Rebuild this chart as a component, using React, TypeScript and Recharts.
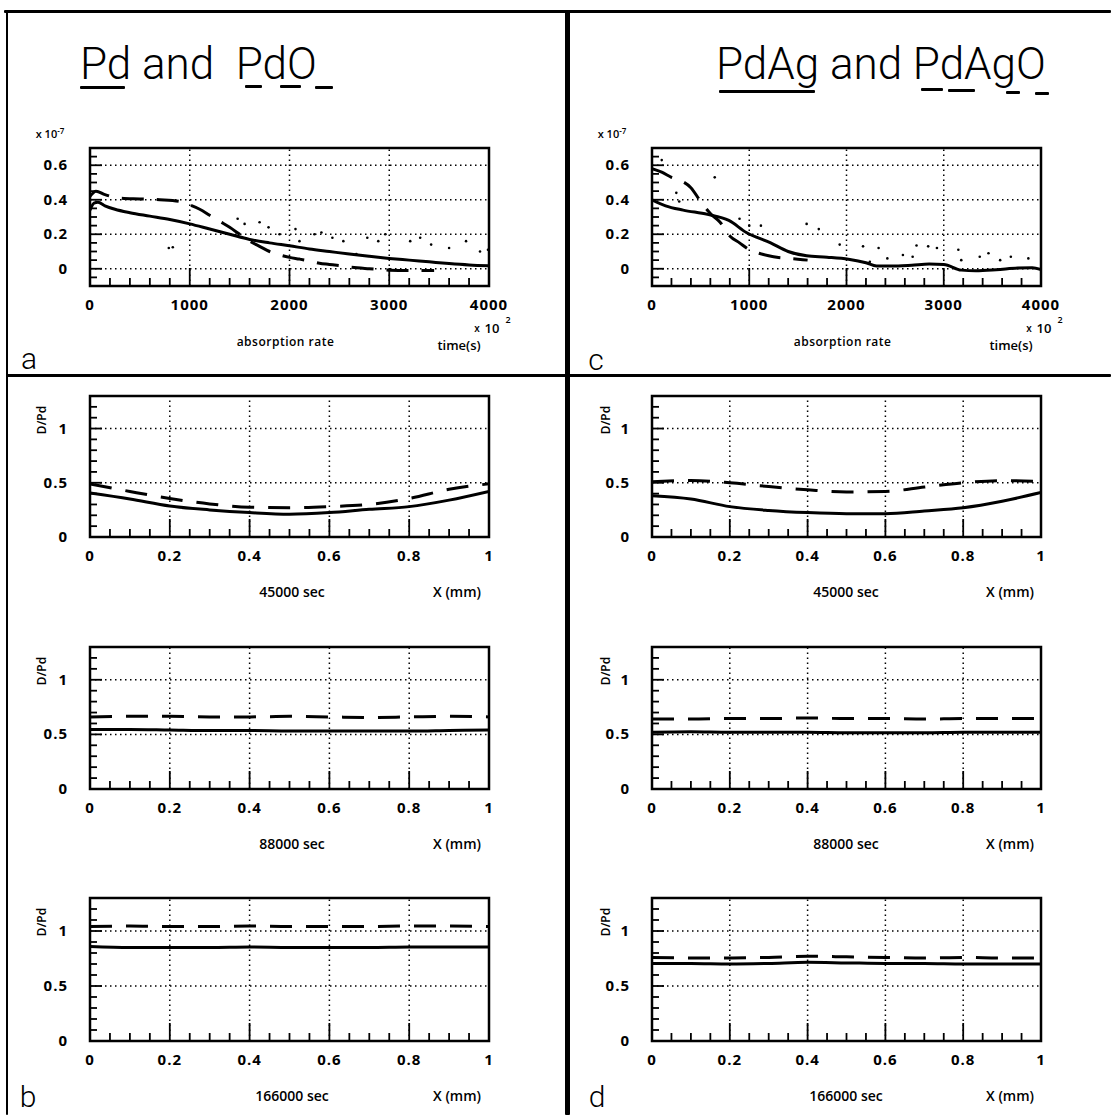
import React from "react";
import {
  ComposedChart,
  Line,
  Scatter,
  XAxis,
  YAxis,
  ReferenceLine,
  ReferenceArea,
} from "recharts";

// ---- absorption rate panels (time in 10^2 s, rate in 10^-7) ----
const aSolidT = [0, 40, 80, 150, 250, 400, 600, 800, 1000, 1200, 1400, 1600, 1800, 2000, 2200, 2400, 2600, 2800, 3000, 3200, 3400, 3600, 3800, 4000];
const aSolidV = [0.34, 0.38, 0.385, 0.365, 0.345, 0.325, 0.305, 0.285, 0.26, 0.23, 0.2, 0.17, 0.15, 0.133, 0.115, 0.1, 0.085, 0.072, 0.06, 0.05, 0.04, 0.03, 0.022, 0.017];
const aDashT = [0, 60, 150, 300, 500, 700, 900, 1000, 1100, 1200, 1300, 1400, 1500, 1600, 1700, 1800, 1900, 2000, 2100, 2200, 2300, 2400, 2500, 2600, 2800, 3000, 3200, 3450];
const aDashV = [0.42, 0.45, 0.43, 0.41, 0.405, 0.4, 0.39, 0.37, 0.345, 0.31, 0.275, 0.24, 0.2, 0.16, 0.13, 0.1, 0.08, 0.066, 0.056, 0.045, 0.032, 0.025, 0.018, 0.01, 0.0, -0.008, -0.01, -0.01];
const aDotT = [790, 830, 1480, 1550, 1700, 1790, 1900, 2060, 2100, 2250, 2320, 2430, 2540, 2670, 2780, 2890, 2960, 3210, 3310, 3420, 3600, 3770, 3910, 3990];
const aDotV = [0.12, 0.125, 0.29, 0.26, 0.27, 0.24, 0.2, 0.23, 0.16, 0.2, 0.21, 0.18, 0.16, 0.085, 0.18, 0.16, 0.2, 0.16, 0.18, 0.14, 0.12, 0.16, 0.1, 0.11];

const cSolidT = [0, 140, 320, 570, 790, 970, 1220, 1400, 1590, 1800, 2020, 2200, 2310, 2530, 2670, 2850, 3000, 3180, 3330, 3540, 3760, 3910, 4000];
const cSolidV = [0.4, 0.365, 0.34, 0.315, 0.28, 0.21, 0.15, 0.1, 0.075, 0.067, 0.055, 0.035, 0.016, 0.016, 0.02, 0.027, 0.025, -0.008, -0.012, -0.006, 0.004, 0.006, -0.004];
const cDashT = [0, 100, 200, 300, 400, 500, 600, 700, 800, 900, 1000, 1100, 1200, 1300, 1400, 1500, 1600];
const cDashV = [0.58, 0.56, 0.53, 0.51, 0.47, 0.39, 0.32, 0.27, 0.19, 0.15, 0.11, 0.09, 0.075, 0.065, 0.06, 0.055, 0.05];
const cDotT = [100, 250, 280, 645, 900, 1000, 1120, 1590, 1715, 1930, 2170, 2240, 2330, 2420, 2580, 2680, 2720, 2840, 2930, 3150, 3180, 3370, 3460, 3580, 3690, 3870];
const cDotV = [0.63, 0.44, 0.39, 0.53, 0.29, 0.25, 0.25, 0.26, 0.23, 0.14, 0.13, 0.04, 0.12, 0.06, 0.08, 0.07, 0.135, 0.13, 0.12, 0.11, 0.05, 0.07, 0.09, 0.05, 0.07, 0.06];

// ---- D/Pd profiles across the sample, x in mm ----
const profX = [0, 0.1, 0.2, 0.3, 0.4, 0.5, 0.6, 0.7, 0.8, 0.9, 1];
const b45Solid = [0.405, 0.35, 0.285, 0.25, 0.225, 0.21, 0.225, 0.255, 0.28, 0.34, 0.42];
const b45Dash = [0.49, 0.42, 0.355, 0.305, 0.275, 0.27, 0.28, 0.3, 0.355, 0.44, 0.49];
const b88Solid = [0.545, 0.545, 0.54, 0.535, 0.535, 0.53, 0.53, 0.53, 0.53, 0.535, 0.54];
const b88Dash = [0.66, 0.665, 0.665, 0.66, 0.66, 0.665, 0.66, 0.655, 0.66, 0.665, 0.66];
const b166Solid = [0.86, 0.85, 0.85, 0.85, 0.855, 0.85, 0.85, 0.85, 0.855, 0.855, 0.855];
const b166Dash = [1.04, 1.045, 1.04, 1.04, 1.045, 1.04, 1.04, 1.04, 1.045, 1.045, 1.04];
const d45Solid = [0.38, 0.35, 0.28, 0.245, 0.225, 0.215, 0.215, 0.24, 0.27, 0.33, 0.41];
const d45Dash = [0.51, 0.52, 0.5, 0.465, 0.435, 0.415, 0.42, 0.46, 0.5, 0.52, 0.51];
const d88Solid = [0.52, 0.525, 0.52, 0.52, 0.52, 0.515, 0.515, 0.515, 0.52, 0.52, 0.52];
const d88Dash = [0.64, 0.64, 0.645, 0.645, 0.65, 0.645, 0.645, 0.64, 0.645, 0.645, 0.645];
const d166Solid = [0.705, 0.705, 0.7, 0.705, 0.715, 0.71, 0.705, 0.705, 0.7, 0.7, 0.7];
const d166Dash = [0.76, 0.755, 0.755, 0.76, 0.77, 0.765, 0.76, 0.755, 0.76, 0.755, 0.755];

// ---- ticks ----
const timeTicks = [0, 200, 400, 600, 800, 1000, 1200, 1400, 1600, 1800, 2000, 2200, 2400, 2600, 2800, 3000, 3200, 3400, 3600, 3800, 4000];
const timeMajor = [0, 1000, 2000, 3000, 4000];
const rateTicks = [-0.1, -0.05, 0, 0.05, 0.1, 0.15, 0.2, 0.25, 0.3, 0.35, 0.4, 0.45, 0.5, 0.55, 0.6, 0.65, 0.7];
const rateMajor = [0, 0.2, 0.4, 0.6];
const mmTicks = [0, 0.05, 0.1, 0.15, 0.2, 0.25, 0.3, 0.35, 0.4, 0.45, 0.5, 0.55, 0.6, 0.65, 0.7, 0.75, 0.8, 0.85, 0.9, 0.95, 1];
const mmMajor = [0, 0.2, 0.4, 0.6, 0.8, 1];
const ratioTicks = [0, 0.1, 0.2, 0.3, 0.4, 0.5, 0.6, 0.7, 0.8, 0.9, 1, 1.1, 1.2, 1.3];
const ratioMajor = [0, 0.5, 1];

const zip = (xs: number[], ys: number[]) => xs.map((x, i) => ({ x, y: ys[i] }));
const has = (arr: number[], v: number) => arr.some(m => Math.abs(m - v) < 1e-6);
const fmt = (v: number) => String(Number(v.toFixed(2)));

const tickFont = { fontFamily: "'Open Sans', sans-serif", fontWeight: 700, fontSize: 15, letterSpacing: 1 };

const XTick = (p: any) => {
  const major = has(p.major, p.payload.value);
  return (
    <g>
      <line x1={p.x} x2={p.x} y1={p.y} y2={p.y - (major ? 18 : 8)} stroke="#000" strokeWidth={1.8} />
      {major && (
        <text x={p.x} y={p.y + 24} textAnchor="middle" fill="#000" style={tickFont}>{fmt(p.payload.value)}</text>
      )}
    </g>
  );
};

const YTick = (p: any) => {
  const major = has(p.major, p.payload.value);
  return (
    <g>
      <line x1={p.x} x2={p.x + (major ? 12 : 7)} y1={p.y} y2={p.y} stroke="#000" strokeWidth={1.8} />
      {major && (
        <text x={p.x - 22} y={p.y + 5} textAnchor="end" fill="#000" style={tickFont}>{fmt(p.payload.value)}</text>
      )}
    </g>
  );
};

const Dot = (p: any) => <circle cx={p.cx} cy={p.cy} r={1.3} fill="#000" />;

interface PlotProps {
  left: number; top: number; w: number; h: number;
  xDom: number[]; yDom: number[];
  xTicks: number[]; xMajor: number[]; yTicks: number[]; yMajor: number[];
  xGrid: number[]; yGrid: number[];
  solid: { x: number; y: number }[];
  dash: { x: number; y: number }[];
  dots?: { x: number; y: number }[];
  dashArray: string;
}

function Plot(props: PlotProps) {
  const { left, top, w, h, xDom, yDom } = props;
  const yw = 60, xh = 40;
  const ml = 20, mt = 12, mr = 20, mb = 4;
  return (
    <div style={{ position: "absolute", left: left - ml - yw, top: top - mt }}>
      <ComposedChart width={w + ml + yw + mr} height={h + mt + xh + mb} margin={{ left: ml, top: mt, right: mr, bottom: mb }}>
        <XAxis
          type="number" dataKey="x" domain={xDom} ticks={props.xTicks} interval={0}
          height={xh} axisLine={false} tickLine={false} tickSize={0} tickMargin={0}
          allowDataOverflow tick={(p: any) => <XTick {...p} major={props.xMajor} />}
        />
        <YAxis
          type="number" dataKey="y" domain={yDom} ticks={props.yTicks} interval={0}
          width={yw} axisLine={false} tickLine={false} tickSize={0} tickMargin={0}
          allowDataOverflow tick={(p: any) => <YTick {...p} major={props.yMajor} />}
        />
        {props.xGrid.map(v => (
          <ReferenceLine key={"gx" + v} x={v} stroke="#000" strokeWidth={1.5} strokeDasharray="1.5 3.5" />
        ))}
        {props.yGrid.map(v => (
          <ReferenceLine key={"gy" + v} y={v} stroke="#000" strokeWidth={1.5} strokeDasharray="1.5 3.5" />
        ))}
        <ReferenceArea x1={xDom[0]} x2={xDom[1]} y1={yDom[0]} y2={yDom[1]} fill="none" fillOpacity={0} stroke="#000" strokeWidth={2.5} />
        {props.dots && <Scatter data={props.dots} dataKey="y" shape={Dot} isAnimationActive={false} />}
        <Line data={props.dash} dataKey="y" type="monotone" stroke="#000" strokeWidth={3} strokeDasharray={props.dashArray} dot={false} isAnimationActive={false} />
        <Line data={props.solid} dataKey="y" type="monotone" stroke="#000" strokeWidth={3} dot={false} isAnimationActive={false} />
      </ComposedChart>
    </div>
  );
}

const Txt = ({ x, y, size = 12, weight = 600, family = "'Open Sans', sans-serif", rotate = 0, spacing = 0, children }: any) => (
  <div style={{
    position: "absolute", left: x, top: y, transform: `translate(-50%, -50%) rotate(${rotate}deg)`,
    fontFamily: family, fontSize: size, fontWeight: weight, letterSpacing: spacing, whiteSpace: "pre", lineHeight: 1, color: "#000",
  }}>{children}</div>
);

const Bar = ({ x, y, w, h }: any) => (
  <div style={{ position: "absolute", left: x, top: y, width: w, height: h, background: "#000", borderRadius: 1 }} />
);

const LEFT = 90, LW = 399, RIGHT = 652, RW = 389;
const rows = [396, 647, 898];
const rowH = [141, 142, 143];
const secLabels = ["45000 sec", "88000 sec", "166000 sec"];
const bProfiles = [[b45Solid, b45Dash], [b88Solid, b88Dash], [b166Solid, b166Dash]];
const dProfiles = [[d45Solid, d45Dash], [d88Solid, d88Dash], [d166Solid, d166Dash]];

export default function App() {
  const rateCommon = {
    top: 148, h: 138, xDom: [0, 4000], yDom: [-0.1, 0.7],
    xTicks: timeTicks, xMajor: timeMajor, yTicks: rateTicks, yMajor: rateMajor,
    xGrid: [1000, 2000, 3000], yGrid: [0, 0.2, 0.4, 0.6], dashArray: "22 13",
  };
  const profCommon = {
    xDom: [0, 1], yDom: [0, 1.3], xTicks: mmTicks, xMajor: mmMajor, yTicks: ratioTicks, yMajor: ratioMajor,
    xGrid: [0.2, 0.4, 0.6, 0.8], yGrid: [0.5, 1], dashArray: "22 14",
  };
  const title = { fontFamily: "Roboto, sans-serif", fontWeight: 300, fontSize: 44, position: "absolute" as const, whiteSpace: "pre" as const, lineHeight: 1 };
  return (
    <div style={{ position: "absolute", left: 0, top: 0, width: 1111, height: 1115, background: "#fff", overflow: "hidden" }}>
      {/* frame */}
      <Bar x={4} y={10} w={1107} h={3} />
      <Bar x={6} y={10} w={2} h={1105} />
      <Bar x={565} y={10} w={5} h={1105} />
      <Bar x={6} y={374} w={1105} h={2.5} />

      {/* titles */}
      <div style={{ ...title, left: 80, top: 42 }}>{"Pd and  PdO"}</div>
      <Bar x={80} y={86} w={45} h={3} />
      <Bar x={245} y={85} w={17} h={3} />
      <Bar x={280} y={85} w={21} h={3} />
      <Bar x={315} y={86} w={18} h={3} />
      <div style={{ ...title, left: 716, top: 42 }}>{"PdAg and PdAgO"}</div>
      <Bar x={719} y={90} w={96} h={2.5} />
      <Bar x={921} y={88} w={22} h={3} />
      <Bar x={948} y={89} w={27} h={3} />
      <Bar x={1006} y={91} w={14} h={3} />
      <Bar x={1035} y={92} w={14} h={3} />

      {/* absorption rate */}
      <Plot left={LEFT} w={LW} {...rateCommon} solid={zip(aSolidT, aSolidV)} dash={zip(aDashT, aDashV)} dots={zip(aDotT, aDotV)} />
      <Plot left={RIGHT} w={RW} {...rateCommon} solid={zip(cSolidT, cSolidV)} dash={zip(cDashT, cDashV)} dots={zip(cDotT, cDotV)} />
      {[0, 1].map(i => {
        const l = i ? RIGHT : LEFT, w = i ? RW : LW;
        return (
          <React.Fragment key={"rate" + i}>
            <Txt x={l - 40} y={133} size={11}>{"x 10"}<sup style={{ fontSize: 8 }}>-7</sup></Txt>
            <Txt x={l + w * 0.49} y={342} size={12} spacing={0.5}>absorption rate</Txt>
            <Txt x={l + w - 30} y={345} size={13}>time(s)</Txt>
            <Txt x={l + w - 12} y={328} size={10}>x</Txt>
            <Txt x={l + w + 3} y={328} size={13}>10</Txt>
            <Txt x={l + w + 19} y={319} size={9}>2</Txt>
          </React.Fragment>
        );
      })}
      <Txt x={29} y={359} size={30} weight={300} family="Roboto, sans-serif">a</Txt>
      <Txt x={596} y={360} size={30} weight={300} family="Roboto, sans-serif">c</Txt>

      {/* concentration profiles */}
      {rows.map((top, r) => (
        <React.Fragment key={"row" + r}>
          <Plot left={LEFT} w={LW} top={top} h={rowH[r]} {...profCommon} solid={zip(profX, bProfiles[r][0])} dash={zip(profX, bProfiles[r][1])} />
          <Plot left={RIGHT} w={RW} top={top} h={rowH[r]} {...profCommon} solid={zip(profX, dProfiles[r][0])} dash={zip(profX, dProfiles[r][1])} />
          <Txt x={42} y={top + 24} size={12} rotate={-90}>D/Pd</Txt>
          <Txt x={606} y={top + 24} size={12} rotate={-90}>D/Pd</Txt>
          <Txt x={292} y={top + rowH[r] + 55} size={14}>{secLabels[r]}</Txt>
          <Txt x={457} y={top + rowH[r] + 55} size={14}>X (mm)</Txt>
          <Txt x={846} y={top + rowH[r] + 55} size={14}>{secLabels[r]}</Txt>
          <Txt x={1010} y={top + rowH[r] + 55} size={14}>X (mm)</Txt>
        </React.Fragment>
      ))}
      <Txt x={28} y={1097} size={30} weight={300} family="Roboto, sans-serif">b</Txt>
      <Txt x={597} y={1097} size={30} weight={300} family="Roboto, sans-serif">d</Txt>
    </div>
  );
}
